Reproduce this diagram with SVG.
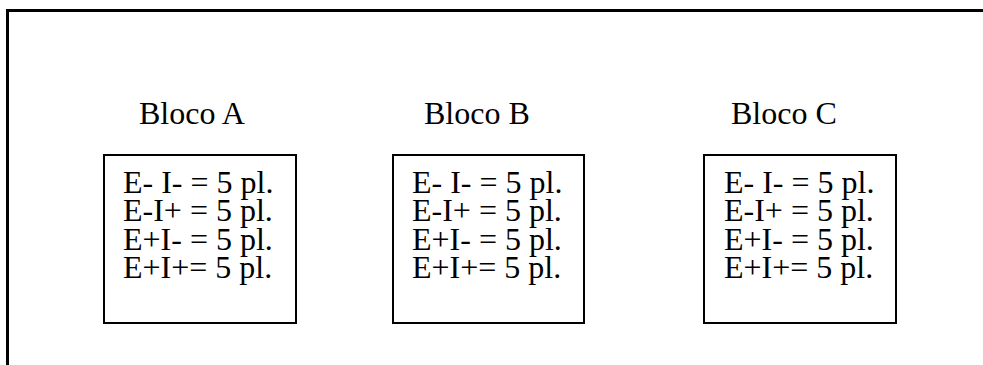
<svg xmlns="http://www.w3.org/2000/svg" width="983" height="365" viewBox="0 0 983 365">
<style>
text{font-family:"Liberation Serif","Times New Roman",serif;font-size:32px;fill:#000}
.box{fill:#fff;stroke:#000;stroke-width:2}
.frame{fill:none;stroke:#000;stroke-width:3}
</style>
<rect width="983" height="365" fill="#fff"/>
<path class="frame" d="M7.5 365 V10.5 H983"/>
<g id="blocoA">
<text x="139" y="124">Bloco A</text>
<rect class="box" x="104" y="155" width="192" height="168"/>
<text x="123" y="193">E- I- = 5 pl.</text>
<text x="123" y="221">E-I+ = 5 pl.</text>
<text x="123" y="250">E+I- = 5 pl.</text>
<text x="123" y="278">E+I+= 5 pl.</text>
</g>
<g id="blocoB">
<text x="424" y="124">Bloco B</text>
<rect class="box" x="393" y="155" width="191" height="168"/>
<text x="412" y="193">E- I- = 5 pl.</text>
<text x="412" y="221">E-I+ = 5 pl.</text>
<text x="412" y="250">E+I- = 5 pl.</text>
<text x="412" y="278">E+I+= 5 pl.</text>
</g>
<g id="blocoC">
<text x="731" y="124">Bloco C</text>
<rect class="box" x="704" y="155" width="192" height="168"/>
<text x="724" y="193">E- I- = 5 pl.</text>
<text x="724" y="221">E-I+ = 5 pl.</text>
<text x="724" y="250">E+I- = 5 pl.</text>
<text x="724" y="278">E+I+= 5 pl.</text>
</g>
<g id="connectors"></g>
</svg>
